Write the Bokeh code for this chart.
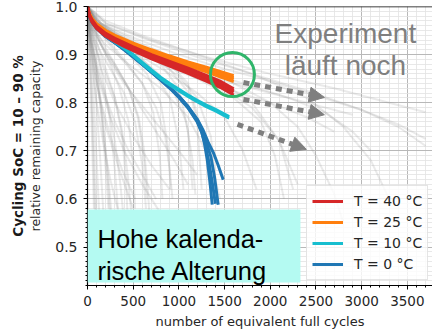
from bokeh.plotting import figure
from bokeh.models import (ColumnDataSource, Range1d, SingleIntervalTicker, PrintfTickFormatter,
                          Legend, LegendItem, Label, Arrow, NormalHead, BoxAnnotation, Span, Title)
from bokeh.embed import file_html
from bokeh.resources import INLINE

# ---- cell test data: relative remaining capacity vs. equivalent full cycles ----
# background: the other cycling conditions (grey)
GREY_X = [
    [0, 20, 40, 60, 80, 100],
    [0, 30, 60, 100, 140, 180],
    [0, 40, 80, 130, 180, 230, 260],
    [0, 50, 100, 170, 240, 300, 340],
    [0, 50, 120, 200, 300, 380, 420, 440],
    [0, 60, 150, 250, 350, 450, 500, 520],
    [0, 60, 150, 300, 450, 550, 620, 650],
    [0, 80, 200, 400, 600, 720, 790, 820],
    [0, 100, 250, 450, 650, 800, 880, 910],
    [0, 100, 300, 500, 700, 900, 1000, 1050],
    [0, 100, 300, 550, 800, 1000, 1100, 1150],
    [0, 100, 300, 600, 900, 1100, 1200, 1250],
    [0, 10, 30, 50, 70],
    [0, 15, 40, 70, 100, 130],
    [0, 20, 60, 110, 160, 200, 230],
    [0, 50, 150, 300, 500, 700, 900],
    [0, 40, 120, 250, 400, 600, 800],
    [0, 30, 100, 200, 350, 500],
    [0, 80, 200, 400, 700, 1000, 1200],
    [0, 100, 300, 600, 1000, 1500, 2000, 2500, 2900],
    [0, 100, 300, 600, 1000, 1500, 2000, 2400, 2700],
    [0, 150, 400, 800, 1200, 1700, 2200, 2600, 2900, 3100],
    [0, 150, 500, 1000, 1500, 2000, 2500, 3000, 3400, 3700],
    [0, 200, 600, 1200, 1800, 2400, 3000, 3400, 3700],
    [0, 150, 500, 1000, 1500, 2000, 2300, 2500, 2700, 2800],
    [0, 200, 600, 1200, 1800, 2400, 2800, 3100, 3300],
    [0, 100, 400, 800, 1300, 1800, 2100, 2300],
    [0, 200, 700, 1300, 2000, 2700, 3300, 3700],
    [0, 100, 400, 900, 1400, 1800, 2100, 2250],
    [0, 60, 200, 450, 800, 1100, 1350, 1450],
    [0, 10, 25, 45, 65, 85],
    [0, 25, 60, 100, 150, 200, 240, 270],
    [0, 30, 80, 150, 230, 300, 360, 400],
    [0, 40, 100, 200, 300, 380, 440, 480],
    [0, 50, 150, 300, 450, 560, 620, 660, 680],
    [0, 80, 200, 400, 600, 750, 850, 900, 930],
    [0, 100, 300, 500, 750, 950, 1080, 1150, 1180],
    [0, 100, 300, 600, 900, 1150, 1280, 1330],
    [0, 30, 90, 180, 300, 450, 600, 750],
    [0, 20, 70, 150, 250, 380, 520],
    [0, 60, 180, 350, 550, 750, 950, 1100],
    [0, 15, 50, 100, 170, 250, 330],
    [0, 120, 350, 700, 1000, 1200, 1350, 1400],
    [0, 50, 130, 250, 400, 520, 600, 640],
    [0, 150, 400, 800, 1200, 1600, 1900, 2050, 2150],
    [0, 100, 300, 600, 900, 1200, 1500, 1700, 1850],
]
GREY_Y = [
    [1.0, 0.93, 0.85, 0.76, 0.66, 0.55],
    [1.0, 0.94, 0.88, 0.79, 0.68, 0.55],
    [1.0, 0.95, 0.90, 0.83, 0.74, 0.62, 0.52],
    [1.0, 0.95, 0.91, 0.85, 0.77, 0.66, 0.56],
    [1.0, 0.955, 0.915, 0.87, 0.81, 0.73, 0.64, 0.56],
    [1.0, 0.96, 0.92, 0.88, 0.83, 0.76, 0.67, 0.58],
    [1.0, 0.96, 0.93, 0.88, 0.83, 0.77, 0.68, 0.60],
    [1.0, 0.965, 0.935, 0.89, 0.84, 0.78, 0.69, 0.60],
    [1.0, 0.965, 0.94, 0.90, 0.86, 0.80, 0.71, 0.62],
    [1.0, 0.97, 0.94, 0.91, 0.87, 0.81, 0.72, 0.62],
    [1.0, 0.97, 0.945, 0.915, 0.88, 0.83, 0.74, 0.62],
    [1.0, 0.97, 0.945, 0.915, 0.88, 0.84, 0.76, 0.62],
    [1.0, 0.95, 0.85, 0.72, 0.58],
    [1.0, 0.96, 0.90, 0.80, 0.68, 0.56],
    [1.0, 0.96, 0.91, 0.85, 0.76, 0.66, 0.58],
    [1.0, 0.94, 0.87, 0.80, 0.73, 0.67, 0.62],
    [1.0, 0.93, 0.85, 0.77, 0.70, 0.63, 0.57],
    [1.0, 0.93, 0.84, 0.75, 0.66, 0.58],
    [1.0, 0.95, 0.90, 0.84, 0.77, 0.70, 0.65],
    [1.0, 0.962, 0.935, 0.905, 0.875, 0.845, 0.82, 0.795, 0.775],
    [1.0, 0.96, 0.93, 0.90, 0.865, 0.83, 0.80, 0.77, 0.74],
    [1.0, 0.965, 0.935, 0.90, 0.87, 0.84, 0.81, 0.78, 0.74, 0.70],
    [1.0, 0.965, 0.935, 0.90, 0.87, 0.845, 0.815, 0.785, 0.755, 0.725],
    [1.0, 0.965, 0.935, 0.895, 0.86, 0.825, 0.785, 0.75, 0.71],
    [1.0, 0.965, 0.93, 0.89, 0.85, 0.80, 0.75, 0.69, 0.61, 0.55],
    [1.0, 0.97, 0.94, 0.90, 0.86, 0.81, 0.75, 0.68, 0.60],
    [1.0, 0.96, 0.925, 0.89, 0.85, 0.79, 0.72, 0.63],
    [1.0, 0.965, 0.93, 0.895, 0.86, 0.83, 0.80, 0.78],
    [1.0, 0.965, 0.93, 0.89, 0.85, 0.80, 0.72, 0.62],
    [1.0, 0.955, 0.92, 0.88, 0.83, 0.77, 0.68, 0.60],
    [1.0, 0.96, 0.90, 0.80, 0.68, 0.55],
    [1.0, 0.95, 0.90, 0.85, 0.78, 0.70, 0.62, 0.55],
    [1.0, 0.95, 0.90, 0.85, 0.79, 0.72, 0.63, 0.55],
    [1.0, 0.95, 0.91, 0.86, 0.81, 0.74, 0.65, 0.57],
    [1.0, 0.955, 0.92, 0.88, 0.83, 0.77, 0.70, 0.62, 0.56],
    [1.0, 0.96, 0.93, 0.885, 0.84, 0.79, 0.73, 0.66, 0.60],
    [1.0, 0.965, 0.935, 0.905, 0.865, 0.82, 0.76, 0.68, 0.61],
    [1.0, 0.965, 0.94, 0.91, 0.87, 0.81, 0.72, 0.63],
    [1.0, 0.94, 0.88, 0.82, 0.76, 0.70, 0.65, 0.60],
    [1.0, 0.94, 0.87, 0.80, 0.73, 0.66, 0.60],
    [1.0, 0.95, 0.91, 0.86, 0.80, 0.74, 0.68, 0.63],
    [1.0, 0.95, 0.88, 0.80, 0.72, 0.64, 0.58],
    [1.0, 0.965, 0.935, 0.895, 0.855, 0.81, 0.73, 0.64],
    [1.0, 0.95, 0.91, 0.87, 0.82, 0.76, 0.67, 0.58],
    [1.0, 0.96, 0.93, 0.89, 0.85, 0.81, 0.76, 0.69, 0.60],
    [1.0, 0.96, 0.93, 0.895, 0.86, 0.82, 0.77, 0.70, 0.62],
]

# T = 40 °C
X_40 = [0, 20, 50, 100, 200, 300, 400, 500, 700, 900, 1100, 1300, 1450, 1600]
Y_40 = [
    [1.0, 0.981, 0.969, 0.956, 0.941, 0.930, 0.920, 0.911, 0.895, 0.880, 0.866, 0.850, 0.837, 0.822],
    [1.0, 0.983, 0.972, 0.959, 0.944, 0.934, 0.925, 0.916, 0.900, 0.886, 0.872, 0.857, 0.845, 0.829],
    [1.0, 0.980, 0.967, 0.954, 0.938, 0.927, 0.917, 0.908, 0.891, 0.876, 0.861, 0.845, 0.832, 0.816],
    [1.0, 0.982, 0.970, 0.957, 0.942, 0.931, 0.921, 0.912, 0.896, 0.882, 0.868, 0.853, 0.840, 0.825],
]
# T = 25 °C
X_25 = [0, 20, 50, 100, 200, 300, 400, 500, 700, 900, 1100, 1300, 1450, 1600]
Y_25 = [
    [1.0, 0.986, 0.975, 0.964, 0.950, 0.940, 0.932, 0.924, 0.910, 0.897, 0.885, 0.874, 0.865, 0.856],
    [1.0, 0.984, 0.973, 0.961, 0.947, 0.937, 0.928, 0.920, 0.906, 0.893, 0.880, 0.868, 0.859, 0.849],
    [1.0, 0.983, 0.971, 0.959, 0.945, 0.934, 0.925, 0.917, 0.902, 0.889, 0.876, 0.864, 0.854, 0.844],
    [1.0, 0.985, 0.974, 0.962, 0.948, 0.938, 0.930, 0.922, 0.908, 0.895, 0.882, 0.870, 0.861, 0.852],
]
# T = 10 °C
X_10 = [0, 20, 50, 100, 200, 300, 400, 500, 600, 700, 800, 900, 1000, 1100, 1200, 1300, 1400, 1550]
Y_10 = [
    [1.0, 0.981, 0.969, 0.956, 0.940, 0.928, 0.915, 0.900, 0.884, 0.868, 0.853, 0.840, 0.828, 0.816, 0.805, 0.795, 0.786, 0.771],
    [1.0, 0.980, 0.968, 0.955, 0.939, 0.926, 0.913, 0.898, 0.881, 0.865, 0.850, 0.837, 0.825, 0.813, 0.802, 0.792, 0.783, 0.768],
]
# T = 0 °C
X_0 = [
    [0, 20, 50, 100, 200, 300, 400, 500, 600, 700, 800, 900, 1000, 1100, 1200, 1250, 1280, 1310, 1340, 1365],
    [0, 20, 50, 100, 200, 300, 400, 500, 600, 700, 800, 900, 1000, 1100, 1200, 1250, 1300, 1350, 1390, 1430],
    [0, 20, 50, 100, 200, 300, 400, 500, 600, 700, 800, 900, 1000, 1100, 1200, 1260, 1320, 1380, 1430, 1485],
    [0, 20, 50, 100, 200, 300, 400, 500, 600, 700, 800, 900, 1000, 1100, 1200, 1250, 1290, 1330, 1370, 1400],
]
Y_0 = [
    [1.0, 0.981, 0.968, 0.955, 0.938, 0.925, 0.911, 0.896, 0.880, 0.864, 0.848, 0.831, 0.812, 0.790, 0.762, 0.740, 0.715, 0.682, 0.635, 0.588],
    [1.0, 0.982, 0.969, 0.956, 0.939, 0.926, 0.912, 0.897, 0.881, 0.865, 0.849, 0.833, 0.814, 0.792, 0.765, 0.745, 0.718, 0.688, 0.645, 0.588],
    [1.0, 0.981, 0.968, 0.955, 0.938, 0.925, 0.911, 0.896, 0.880, 0.864, 0.848, 0.832, 0.813, 0.792, 0.766, 0.745, 0.718, 0.695, 0.670, 0.640],
    [1.0, 0.980, 0.967, 0.954, 0.937, 0.924, 0.910, 0.895, 0.879, 0.863, 0.847, 0.830, 0.811, 0.789, 0.760, 0.738, 0.712, 0.675, 0.628, 0.590],
]

SERIES = [
    ("T = 40 °C", "#d62728", X_40, Y_40),
    ("T = 25 °C", "#ff7f0e", X_25, Y_25),
    ("T = 10 °C", "#17becf", X_10, Y_10),
    ("T = 0 °C", "#1f77b4", X_0, Y_0),
]
DRAW_ORDER = ["T = 0 °C", "T = 10 °C", "T = 25 °C", "T = 40 °C"]

X_TICK_STEP = 500
Y_TICK_STEP = 0.1

FONT = "DejaVu Sans"
ANNOT_FONT = "Liberation Sans"
GREY = "#7f7f7f"

p = figure(width=432, height=336, output_backend="svg", toolbar_location=None,
           x_range=Range1d(0, 3775), y_range=Range1d(0.42, 1.0),
           min_border_left=87, min_border_right=0, min_border_top=6, min_border_bottom=51)
p.outline_line_color = None
p.background_fill_color = "white"

# axes
p.xaxis.ticker = SingleIntervalTicker(interval=X_TICK_STEP, num_minor_ticks=5)
p.yaxis.ticker = SingleIntervalTicker(interval=Y_TICK_STEP, num_minor_ticks=10)
p.yaxis.formatter = PrintfTickFormatter(format="%.1f")
for ax in (p.xaxis[0], p.yaxis[0]):
    ax.axis_line_color = "black"
    ax.axis_line_width = 1.2
    ax.major_tick_line_color = "black"
    ax.minor_tick_line_color = "black"
    ax.major_tick_out = 4
    ax.major_tick_in = 0
    ax.minor_tick_out = 2
    ax.minor_tick_in = 0
    ax.major_label_text_font = FONT
    ax.major_label_text_color = "#262626"
    ax.axis_label_text_font = FONT
    ax.axis_label_text_font_style = "normal"
    ax.axis_label_text_color = "#262626"
p.xaxis.major_label_text_font_size = "13.5px"
p.yaxis.major_label_text_font_size = "14px"
p.xaxis.major_label_standoff = 6
p.yaxis.major_label_standoff = 6
p.xaxis.axis_label = "number of equivalent full cycles"
p.xaxis.axis_label_text_font_size = "13px"
p.xaxis.axis_label_standoff = 5
p.yaxis.axis_label = "relative remaining capacity"
p.yaxis.axis_label_text_font_size = "12.5px"
p.yaxis.axis_label_standoff = 9
p.add_layout(Title(text="Cycling SoC = 10 – 90 %", text_font=FONT, text_font_size="13.5px",
                   text_font_style="bold", text_color="#1a1a1a", align="center", standoff=0), "left")

# grid
p.grid.grid_line_color = "#b8b8b8"
p.grid.grid_line_width = 1
p.grid.minor_grid_line_color = "#e2e2e2"
p.grid.minor_grid_line_width = 0.8

# top frame edge
p.add_layout(Span(location=1.0, dimension="width", line_color="black", line_width=1.5))

# background measurements
p.multi_line(xs=GREY_X, ys=GREY_Y, line_color="#8c8c8c", line_alpha=0.18, line_width=2)

# highlighted temperature series
renderers = {}
for name in DRAW_ORDER:
    label, color, xs, ys = next(s for s in SERIES if s[0] == name)
    if isinstance(xs[0], list):
        xs_list = xs
    else:
        xs_list = [xs] * len(ys)
    src = ColumnDataSource(dict(xs=xs_list, ys=ys))
    renderers[label] = p.multi_line(xs="xs", ys="ys", source=src, line_color=color, line_width=3)

# "test still running" marker and trend arrows
CIRCLE_X, CIRCLE_Y = [1586], [0.8586]
p.scatter(x=CIRCLE_X, y=CIRCLE_Y, marker="circle", size=44, fill_color=None,
          line_color="#2fb56a", line_width=3)
ARROWS = [
    (1706, 0.842, 2592, 0.811),
    (1706, 0.807, 2592, 0.775),
    (1641, 0.755, 2395, 0.703),
]
for x0, y0, x1, y1 in ARROWS:
    p.add_layout(Arrow(end=NormalHead(size=15, fill_color=GREY, line_color=GREY),
                       x_start=x0, y_start=y0, x_end=x1, y_end=y1,
                       line_color=GREY, line_width=5, line_dash="6 5"))

p.add_layout(Label(x=2822, y=0.9439, text="Experiment", text_font=ANNOT_FONT, text_font_size="28px",
                   text_color=GREY, text_align="center", text_baseline="alphabetic"))
p.add_layout(Label(x=2822, y=0.8773, text="läuft noch", text_font=ANNOT_FONT, text_font_size="28px",
                   text_color=GREY, text_align="center", text_baseline="alphabetic"))

# calendar ageing note
p.add_layout(BoxAnnotation(left=0, right=2330, bottom=0.426, top=0.578,
                           fill_color="#b4faf2", fill_alpha=1.0, line_color=None))
p.add_layout(Label(x=109, y=0.5177, text="Hohe kalenda-", text_font=ANNOT_FONT, text_font_size="25.5px",
                   text_color="black", text_align="left", text_baseline="alphabetic"))
p.add_layout(Label(x=109, y=0.4511, text="rische Alterung", text_font=ANNOT_FONT, text_font_size="25.5px",
                   text_color="black", text_align="left", text_baseline="alphabetic"))

# legend
items = [LegendItem(label=s[0], renderers=[renderers[s[0]]]) for s in SERIES]
legend = Legend(items=items, location=(219, 5), label_text_font=FONT, label_text_font_size="14px",
                label_text_color="#262626", glyph_width=31, glyph_height=20, label_height=20,
                label_standoff=11, spacing=1, padding=5, margin=0,
                border_line_color="#cccccc", border_line_width=1,
                background_fill_color="white", background_fill_alpha=0.8)
p.add_layout(legend)

open("out.html", "w").write(file_html(p, INLINE))
